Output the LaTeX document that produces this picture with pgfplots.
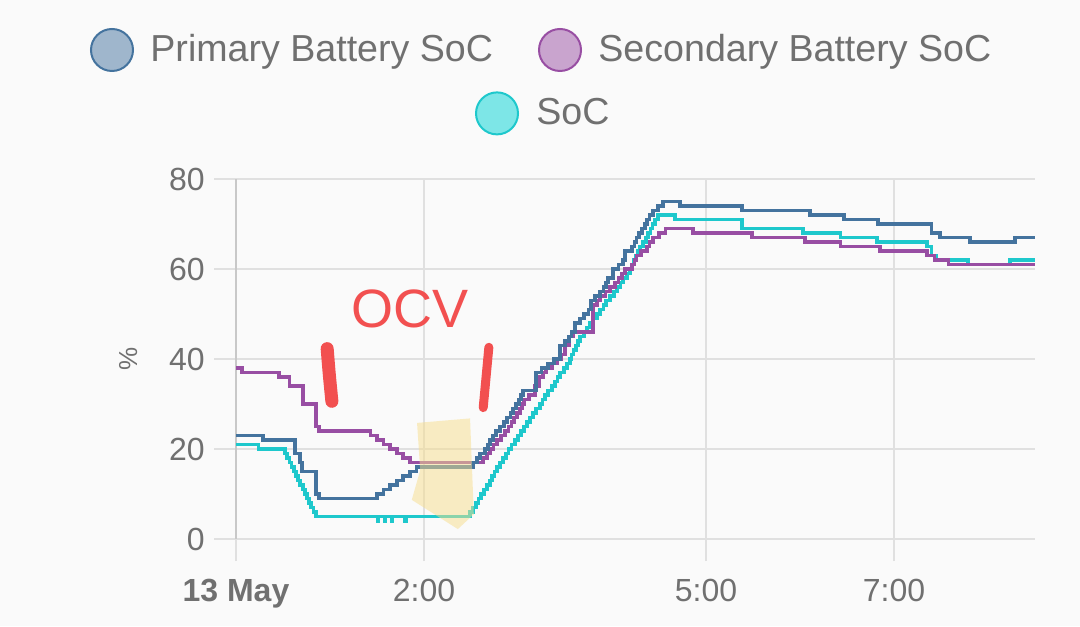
\documentclass[border=0pt]{standalone}
\usepackage{fontspec}
\setmainfont{Liberation Sans}
\usepackage{pgfplots}
\pgfplotsset{compat=1.18}
\definecolor{bg}{HTML}{FAFAFA}
\definecolor{c1}{HTML}{44739E}
\definecolor{c2}{HTML}{984EA3}
\definecolor{c3}{HTML}{1EC8CC}
\definecolor{c1l}{HTML}{9FB6CC}
\definecolor{c2l}{HTML}{C9A4CE}
\definecolor{c3l}{HTML}{7DE6E7}
\definecolor{gridcol}{HTML}{E0E0E0}
\definecolor{axiscol}{HTML}{C8C8C8}
\definecolor{txtcol}{HTML}{707070}
\definecolor{ocvred}{HTML}{F25050}
\definecolor{hl}{HTML}{F7DE8C}
\begin{document}
\begin{tikzpicture}
\path[use as bounding box, fill=bg] (0,0) rectangle (540pt,313pt);
\begin{axis}[
  at={(118pt,43.5pt)}, anchor=south west,
  scale only axis, width=399.5pt, height=180pt,
  xmin=0, xmax=8.5, ymin=0, ymax=80,
  axis x line*=bottom, axis y line*=left,
  axis line style={-},
  x axis line style={draw=gridcol, line width=1pt},
  y axis line style={draw=axiscol, line width=1.2pt},
  xtick={0,2,5,7}, xticklabels={\textbf{13 May},2:00,5:00,7:00},
  ytick={0,20,40,60,80},
  grid=major, major grid style={draw=gridcol, line width=1pt},
  tick align=outside, major tick length=11pt,
  tick style={draw=gridcol, line width=1pt},
  tick label style={text=txtcol, font=\fontsize{16}{19}\selectfont},
  /pgf/number format/assume math mode=true,
  yticklabel style={anchor=east, inner sep=0pt, xshift=-4.5pt},
  xticklabel style={anchor=base, inner sep=0pt, yshift=-20pt},
  ylabel={\%},
  ylabel style={at={(axis description cs:-0.135,0.5)}, anchor=center, text=txtcol, font=\fontsize{13}{15}\selectfont},
]
% SoC
\addplot[const plot, color=c3, line width=1.9pt] coordinates {
(0,21) (0.24,20) (0.52,19) (0.545,18) (0.57,17) (0.59,16) (0.615,15) (0.64,14) (0.66,13) (0.685,12) (0.71,11) (0.73,10) (0.755,9) (0.78,8) (0.80,7) (0.825,6) (0.85,5)
(1.51,4) (1.515,5) (1.58,4) (1.585,5) (1.66,4) (1.665,5) (1.80,4) (1.805,5)
(2.49,6) (2.52,7) (2.55,8) (2.58,9) (2.61,10) (2.64,11) (2.67,12) (2.70,13) (2.72,14) (2.75,15) (2.78,16) (2.81,17) (2.84,18) (2.87,19) (2.90,20)
(2.93,21) (2.97,22) (3.00,23) (3.03,24) (3.06,25) (3.10,26) (3.13,27) (3.16,28) (3.19,29) (3.23,30) (3.26,31) (3.29,32) (3.32,33) (3.36,34) (3.39,35) (3.42,36) (3.45,37) (3.49,38) (3.52,39) (3.55,40)
(3.57,41) (3.59,42) (3.62,43) (3.64,44) (3.66,45) (3.70,46) (3.73,47) (3.77,48) (3.80,49) (3.84,50) (3.87,51) (3.91,52) (3.94,53) (3.98,54) (4.02,55) (4.05,56) (4.09,57) (4.12,58) (4.16,59) (4.19,60)
(4.21,61) (4.23,62) (4.25,63) (4.28,64) (4.30,65) (4.33,66) (4.36,67) (4.38,68) (4.41,69) (4.43,70) (4.46,71) (4.49,72)
(4.67,71) (5.38,69) (6.03,68) (6.43,67) (6.82,66) (7.35,65) (7.40,63) (7.45,62) (7.79,61) (8.23,62) (8.5,62)
};
% Secondary
\addplot[const plot, color=c2, line width=1.9pt] coordinates {
(0,38) (0.06,37) (0.46,36) (0.57,34) (0.71,30) (0.85,25) (0.88,24)
(1.43,23) (1.50,22) (1.57,21) (1.64,20) (1.71,19) (1.78,18) (1.85,17)
(2.63,18) (2.67,19) (2.70,20) (2.74,21) (2.78,22) (2.82,23) (2.86,24) (2.90,25) (2.93,26) (2.96,27) (2.99,28) (3.02,29) (3.04,30) (3.06,31) (3.12,32) (3.18,34) (3.22,36) (3.27,37) (3.30,38) (3.36,39) (3.42,40) (3.46,41) (3.50,43) (3.54,45) (3.59,46)
(3.80,52) (3.84,53) (3.87,54) (3.93,55) (3.98,56) (4.03,57) (4.07,58) (4.11,59) (4.14,60) (4.21,61) (4.24,62) (4.26,63) (4.31,64) (4.37,65) (4.40,66) (4.44,67) (4.50,68) (4.57,69)
(4.86,68) (5.49,67) (6.05,66) (6.43,65) (6.85,64) (7.35,63) (7.43,62) (7.58,61) (8.5,61)
};
% Primary
\addplot[const plot, color=c1, line width=1.9pt] coordinates {
(0,23) (0.29,22) (0.63,19) (0.68,17) (0.70,15) (0.85,10) (0.88,9)
(1.50,10) (1.57,11) (1.64,12) (1.71,13) (1.78,14) (1.85,15) (1.92,16)
(2.52,17) (2.56,18) (2.60,19) (2.65,20) (2.68,21) (2.70,22) (2.73,23) (2.77,24) (2.81,25) (2.85,26) (2.88,27) (2.92,28) (2.95,29) (2.98,30) (3.01,31) (3.03,32) (3.05,33) (3.19,37) (3.25,38) (3.32,39) (3.38,40) (3.45,43) (3.50,44) (3.54,45) (3.57,46) (3.61,48) (3.66,49) (3.70,50) (3.75,51) (3.78,53) (3.82,54) (3.87,55) (3.91,56) (3.94,57) (3.96,58) (4.01,60) (4.07,61) (4.12,62) (4.14,64) (4.21,65) (4.24,66) (4.26,67) (4.29,68) (4.32,69) (4.35,70) (4.37,71) (4.40,72) (4.44,73) (4.49,74) (4.54,75)
(4.72,74) (5.38,73) (6.11,72) (6.47,71) (6.83,70) (7.40,68) (7.49,67) (7.81,66) (8.29,67) (8.5,67)
};
% annotations
\fill[hl, opacity=0.5] (axis cs:1.926,25.8) -- (axis cs:2.49,26.8) -- (axis cs:2.53,5.5) -- (axis cs:2.36,2.2) -- (axis cs:1.87,8.7) -- (axis cs:1.96,15.3) -- cycle;
\draw[ocvred, line width=6.5pt, line cap=round] (axis cs:0.97,42.3) .. controls (axis cs:0.99,37) .. (axis cs:1.02,30.6);
\draw[ocvred, line width=4.5pt, line cap=round] (axis cs:2.69,42.6) -- (axis cs:2.63,29.2);
\node[text=ocvred, font=\fontsize{27}{30}\selectfont] at (axis cs:1.85,51.1) {OCV};
\end{axis}
% legend
\draw[c1, fill=c1l, line width=1pt] (56pt,288pt) circle (10.5pt);
\node[anchor=base west, inner sep=0pt, text=txtcol, font=\fontsize{18.8}{22}\selectfont] at (75pt,282.2pt) {Primary Battery SoC};
\draw[c2, fill=c2l, line width=1pt] (280pt,288pt) circle (10.5pt);
\node[anchor=base west, inner sep=0pt, text=txtcol, font=\fontsize{18.8}{22}\selectfont] at (299pt,282.2pt) {Secondary Battery SoC};
\draw[c3, fill=c3l, line width=1pt] (248.5pt,256.3pt) circle (10.5pt);
\node[anchor=base west, inner sep=0pt, text=txtcol, font=\fontsize{18.8}{22}\selectfont] at (268pt,250.5pt) {SoC};
\end{tikzpicture}
\end{document}
